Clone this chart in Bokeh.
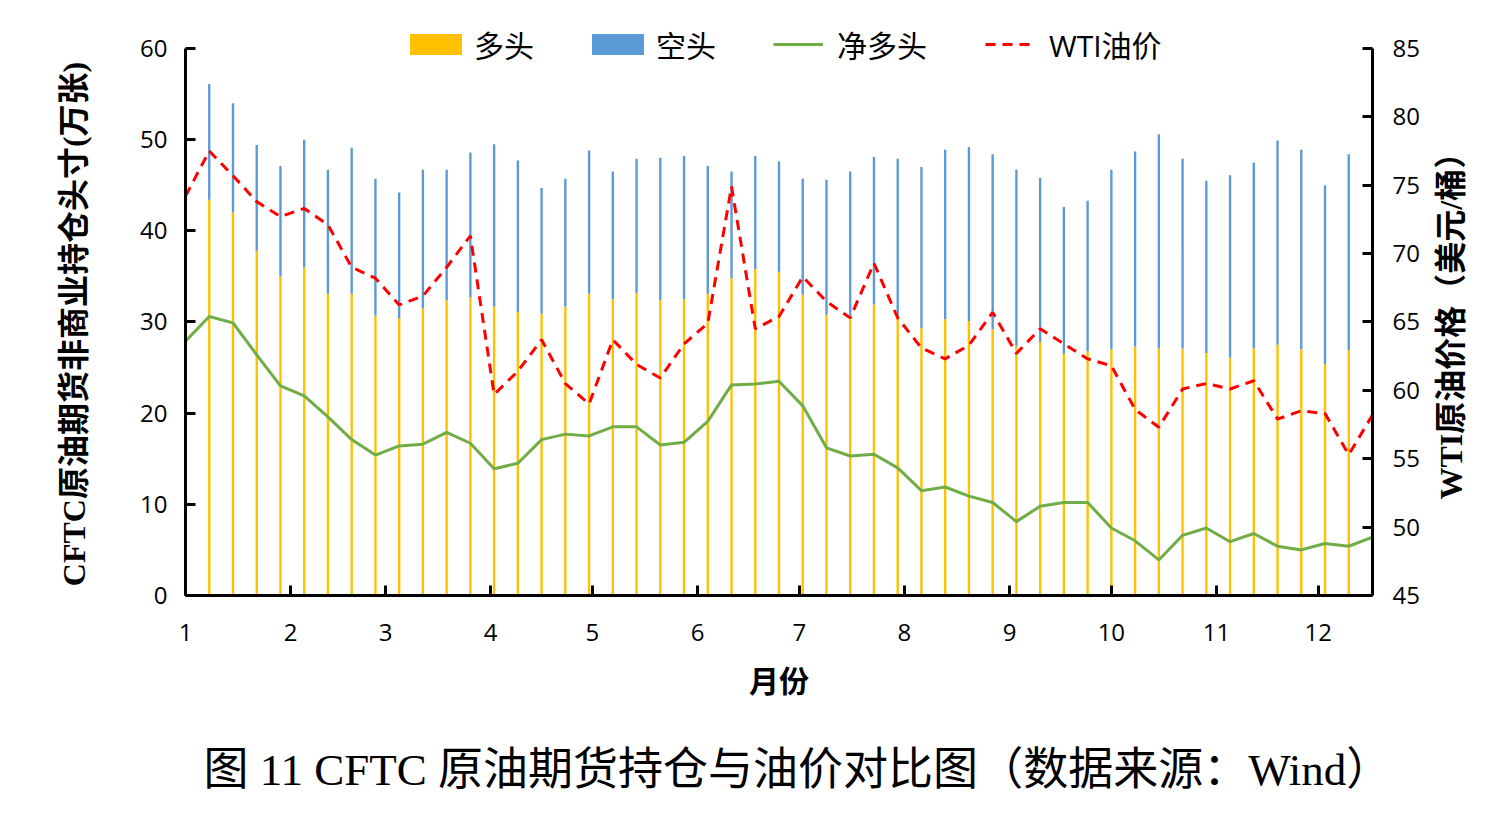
import math
import pandas as pd
from bokeh.plotting import figure
from bokeh.models import (ColumnDataSource, Range1d, LinearAxis, FixedTicker,
                          Legend, LegendItem, Title, Label)
from bokeh.embed import file_html
from bokeh.resources import INLINE

# ---------------- data ----------------
week_dates = pd.date_range("2019-01-01", periods=51, freq="7D")
month_labels = ["1", "2", "3", "4", "5", "6", "7", "8", "9", "10", "11", "12"]

long_pos = [41.2, 43.4, 42.0, 37.8, 35.0, 36.0, 33.1, 33.1, 30.7, 30.4,
            31.5, 32.4, 32.7, 31.7, 31.1, 30.9, 31.7, 33.1, 32.5, 33.2,
            32.4, 32.5, 33.1, 34.8, 35.8, 35.5, 33.0, 30.8, 30.5, 31.9,
            30.5, 29.3, 30.3, 30.1, 29.2, 27.4, 27.8, 26.5, 26.8, 27.0,
            27.3, 27.1, 27.1, 26.6, 26.1, 27.1, 27.5, 27.0, 25.4, 26.9, 27.0]
short_pos = [13.4, 12.7, 12.0, 11.6, 12.1, 14.0, 13.6, 16.0, 15.0, 13.8,
             15.2, 14.3, 15.9, 17.8, 16.6, 13.8, 14.0, 15.7, 14.0, 14.7,
             15.6, 15.7, 14.0, 11.7, 12.4, 12.1, 12.7, 14.8, 16.0, 16.2,
             17.4, 17.7, 18.6, 19.1, 19.2, 19.3, 18.0, 16.1, 16.5, 19.7,
             21.4, 23.5, 20.8, 18.9, 20.0, 20.4, 22.4, 21.9, 19.6, 21.5, 20.6]
net_pos = [27.9, 30.6, 29.9, 26.4, 23.0, 21.9, 19.6, 17.1, 15.4, 16.4,
           16.6, 17.9, 16.7, 13.9, 14.5, 17.1, 17.7, 17.5, 18.5, 18.5,
           16.5, 16.8, 19.1, 23.1, 23.2, 23.5, 20.8, 16.2, 15.3, 15.5,
           14.0, 11.5, 11.9, 10.9, 10.2, 8.1, 9.8, 10.2, 10.2, 7.4,
           6.0, 3.9, 6.6, 7.4, 5.9, 6.8, 5.4, 5.0, 5.7, 5.4, 6.4]
wti_price = [74.2, 77.5, 75.7, 73.8, 72.7, 73.3, 72.1, 69.0, 68.2, 66.25,
             66.9, 69.0, 71.3, 59.7, 61.4, 63.7, 60.5, 59.0, 63.7, 61.9,
             60.9, 63.4, 64.9, 74.9, 64.5, 65.4, 68.3, 66.5, 65.3, 69.3,
             65.3, 63.1, 62.3, 63.3, 65.7, 62.7, 64.5, 63.4, 62.3, 61.8,
             58.6, 57.3, 60.1, 60.5, 60.1, 60.7, 57.9, 58.5, 58.3, 55.3, 58.2]

# ---------------- derived positions ----------------
start = week_dates[0]
xs = [(d - start).days for d in week_dates]
month_starts = pd.date_range("2019-01-01", periods=12, freq="MS")
month_ticks = [(d - start).days for d in month_starts]
total = [a + b for a, b in zip(long_pos, short_pos)]

src = ColumnDataSource(dict(x=xs, long=long_pos, total=total, net=net_pos, wti=wti_price))

SERIF = "'Liberation Serif', 'Noto Sans CJK SC'"
SANS = "'Open Sans', 'Noto Sans CJK SC'"

# frame extends above the axes' top (60 / 85) to leave room for the legend
TOP_PAD = 576.0 / 548.0
p = figure(width=1504, height=836, output_backend="svg", toolbar_location=None,
           x_range=Range1d(0, 350), y_range=Range1d(0, 60 * TOP_PAD),
           min_border_left=185, min_border_right=132, min_border_top=20,
           min_border_bottom=240)
p.extra_y_ranges = {"wti": Range1d(45, 45 + 40 * TOP_PAD)}
p.outline_line_color = None
p.xgrid.visible = False
p.ygrid.visible = False
p.background_fill_color = "white"

yellow = p.vbar(x="x", top="long", bottom=0, width=0.7, source=src,
                fill_color="#FFC000", line_color=None)
blue = p.vbar(x="x", top="total", bottom="long", width=0.7, source=src,
              fill_color="#5B9BD5", line_color=None)
green = p.line("x", "net", source=src, line_color="#70AD47", line_width=3)
red = p.line("x", "wti", source=src, y_range_name="wti", line_color="#FF0000",
             line_width=3, line_dash="10 7")

right = LinearAxis(y_range_name="wti")
p.add_layout(right, "right")

def style_axis(ax, label_size="30px"):
    ax.axis_line_width = 3
    ax.axis_line_color = "black"
    ax.major_tick_line_width = 3
    ax.major_tick_line_color = "black"
    ax.major_tick_in = 10
    ax.major_tick_out = 0
    ax.minor_tick_line_color = None
    ax.major_label_text_font = SANS
    ax.major_label_text_font_size = "24px"
    ax.major_label_text_color = "black"
    ax.axis_label_text_font = SERIF
    ax.axis_label_text_font_style = "bold"
    ax.axis_label_text_font_size = label_size
    ax.axis_label_text_color = "black"

xa = p.xaxis[0]
style_axis(xa)
xa.ticker = FixedTicker(ticks=month_ticks)
xa.major_label_overrides = {t: lab for t, lab in zip(month_ticks, month_labels)}
xa.major_label_standoff = 28
xa.axis_label = "月份"
xa.axis_label_standoff = 21

ya = p.yaxis[0]
style_axis(ya, "32px")
ya.bounds = (0, 60)
ya.ticker = FixedTicker(ticks=[0, 10, 20, 30, 40, 50, 60])
ya.major_label_standoff = 18
# trailing ideographic space shifts the centred label down to the 0-60 span centre
ya.axis_label = "CFTC原油期货非商业持仓头寸(万张)\u3000"
ya.axis_label_standoff = 45

style_axis(right, "32px")
right.bounds = (45, 85)
right.ticker = FixedTicker(ticks=[45, 50, 55, 60, 65, 70, 75, 80, 85])
right.major_label_standoff = 20
right_text = "WTI原油价格（美元/桶）"
try:
    right.axis_label_align = "start"
    right.axis_label = "\u3000\u3000\u3000" + right_text
    right.axis_label_orientation = math.pi / 2
    right.axis_label_standoff = 28
except Exception:
    p.add_layout(Label(x=1270, y=269, x_units="screen", y_units="screen",
                       text=right_text, angle=math.pi / 2, text_align="center",
                       text_baseline="middle", text_font=SERIF,
                       text_font_style="bold", text_font_size="32px",
                       text_color="black"))

common = dict(orientation="horizontal", padding=0, margin=0,
              border_line_color=None, background_fill_alpha=0,
              label_text_font=SANS, label_text_font_size="30px",
              label_text_color="black")
legend_bars = Legend(items=[LegendItem(label="多头", renderers=[yellow]),
                            LegendItem(label="空头", renderers=[blue])],
                     location=(218, 529), glyph_width=65, glyph_height=26,
                     label_standoff=6, spacing=51, **common)
legend_lines = Legend(items=[LegendItem(label="净多头", renderers=[green]),
                             LegendItem(label="WTI油价", renderers=[red])],
                      location=(588, 529), glyph_width=50, glyph_height=26,
                      label_standoff=14, spacing=58, **common)
p.add_layout(legend_bars, "center")
p.add_layout(legend_lines, "center")

caption = Title(text="图 11 CFTC 原油期货持仓与油价对比图（数据来源：Wind）",
                align="left", offset=18, text_font=SERIF,
                text_font_style="normal", text_font_size="45px",
                text_color="black", standoff=84)
p.add_layout(caption, "below")

open("out.html", "w").write(file_html(p, INLINE))
